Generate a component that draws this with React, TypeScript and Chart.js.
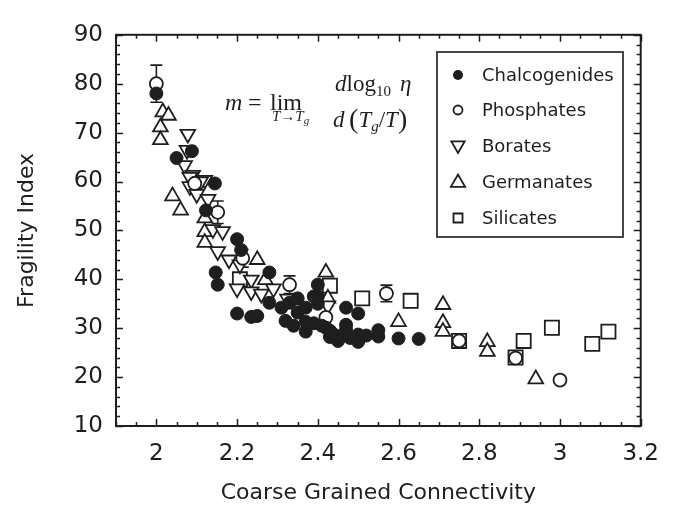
import React, { useEffect, useRef } from 'react';
import { Chart, registerables } from 'chart.js';

Chart.register(...registerables);

const seriesNames = ['Chalcogenides', 'Phosphates', 'Borates', 'Germanates', 'Silicates'];

const chalcX = [2.0, 2.05, 2.088, 2.145, 2.123, 2.2, 2.21, 2.147, 2.152, 2.2, 2.235, 2.25, 2.28, 2.28, 2.39, 2.31, 2.33, 2.37, 2.4, 2.4, 2.35, 2.4, 2.47, 2.5, 2.35, 2.37, 2.42, 2.44, 2.45, 2.47, 2.5, 2.5, 2.47, 2.37, 2.55, 2.55, 2.6, 2.65, 2.32, 2.34, 2.39, 2.41, 2.43, 2.46, 2.48, 2.52, 2.43];
const chalcY = [78, 64.8, 66.2, 59.6, 54.1, 48.2, 46, 41.4, 38.9, 33, 32.3, 32.5, 41.4, 35.2, 36.5, 34.2, 35.2, 34.2, 35, 38.9, 36.1, 36.5, 34.2, 33, 33.2, 31.3, 30.1, 28.7, 27.4, 29.7, 28.7, 27.2, 30.7, 29.3, 28.3, 29.6, 27.9, 27.8, 31.5, 30.5, 31, 30.5, 29.5, 28.5, 28, 28.5, 28.2];

const phosX = [2.0, 2.095, 2.152, 2.214, 2.33, 2.42, 2.57, 2.75, 2.89, 3.0];
const phosY = [80, 59.6, 53.7, 44.3, 38.9, 32.2, 37.1, 27.4, 23.9, 19.4];
const phosErr = [3.8, 0, 2.3, 1.8, 1.8, 0, 1.7, 0, 0, 0];

const borX = [2.078, 2.076, 2.07, 2.09, 2.12, 2.083, 2.11, 2.083, 2.1, 2.128, 2.14, 2.164, 2.152, 2.18, 2.207, 2.2, 2.235, 2.235, 2.26, 2.29, 2.325, 2.35, 2.425];
const borY = [69.7, 66.4, 63.3, 61.3, 60.3, 60.9, 60, 59, 57.4, 56.4, 50.2, 49.8, 45.7, 44, 43, 38.1, 39.9, 37.5, 37, 38.1, 36, 34, 34.6];

const gerX = [2.016, 2.03, 2.01, 2.01, 2.04, 2.06, 2.12, 2.12, 2.12, 2.25, 2.27, 2.42, 2.425, 2.6, 2.71, 2.71, 2.71, 2.82, 2.82, 2.94];
const gerY = [74.2, 73.5, 71.1, 68.5, 57, 54.1, 52.5, 49.7, 47.5, 44, 39.9, 41.4, 36.1, 31.3, 34.8, 31.1, 29.3, 27.2, 25.2, 19.6];

const silX = [2.207, 2.43, 2.51, 2.63, 2.75, 2.89, 2.91, 2.98, 3.08, 3.12];
const silY = [40, 38.7, 36.1, 35.6, 27.4, 24, 27.4, 30.1, 26.8, 29.3];

const xTickValues = [2, 2.2, 2.4, 2.6, 2.8, 3, 3.2];
const xTickLabels = ['2', '2.2', '2.4', '2.6', '2.8', '3', '3.2'];
const yTickValues = [10, 20, 30, 40, 50, 60, 70, 80, 90];
const yTickLabels = ['10', '20', '30', '40', '50', '60', '70', '80', '90'];

const xTitle = 'Coarse Grained Connectivity';
const yTitle = 'Fragility Index';

const INK = '#1e1e1e';
const SANS = '"DejaVu Sans", sans-serif';
const SERIF = '"Liberation Serif", serif';

const toPoints = (xs: number[], ys: number[]) => xs.map((x, i) => ({ x, y: ys[i] }));

function drawMarker(ctx: CanvasRenderingContext2D, kind: string, x: number, y: number, s: number) {
  ctx.beginPath();
  if (kind === 'dot' || kind === 'circle') {
    ctx.arc(x, y, s, 0, Math.PI * 2);
  } else if (kind === 'up') {
    ctx.moveTo(x, y - s);
    ctx.lineTo(x + s * 0.95, y + s * 0.65);
    ctx.lineTo(x - s * 0.95, y + s * 0.65);
    ctx.closePath();
  } else if (kind === 'down') {
    ctx.moveTo(x, y + s);
    ctx.lineTo(x + s * 0.95, y - s * 0.65);
    ctx.lineTo(x - s * 0.95, y - s * 0.65);
    ctx.closePath();
  } else {
    ctx.rect(x - s, y - s, 2 * s, 2 * s);
  }
  if (kind === 'dot') {
    ctx.fillStyle = INK;
    ctx.fill();
  } else {
    ctx.fillStyle = '#fff';
    ctx.fill();
    ctx.lineWidth = 1.8;
    ctx.strokeStyle = INK;
    ctx.stroke();
  }
}

function drawRun(ctx: CanvasRenderingContext2D, x: number, y: number, parts: [string, string, number][]) {
  let cx = x;
  for (const [text, font, dy] of parts) {
    ctx.font = font;
    ctx.fillText(text, cx, y + dy);
    cx += ctx.measureText(text).width;
  }
}

const decorPlugin = {
  id: 'decor',
  beforeDatasetsDraw(chart: any) {
    const { ctx, scales } = chart;
    const xs = scales.x;
    const ys = scales.y;
    ctx.save();
    ctx.strokeStyle = INK;
    ctx.lineWidth = 1.6;
    phosX.forEach((xv, i) => {
      const e = phosErr[i];
      if (!e) return;
      const px = xs.getPixelForValue(xv);
      const top = ys.getPixelForValue(phosY[i] + e);
      const bot = ys.getPixelForValue(phosY[i] - e);
      ctx.beginPath();
      ctx.moveTo(px, top);
      ctx.lineTo(px, bot);
      ctx.moveTo(px - 6, top);
      ctx.lineTo(px + 6, top);
      ctx.moveTo(px - 6, bot);
      ctx.lineTo(px + 6, bot);
      ctx.stroke();
    });
    ctx.restore();
  },
  afterDraw(chart: any) {
    const { ctx, chartArea: a, scales } = chart;
    const xs = scales.x;
    const ys = scales.y;
    ctx.save();
    // frame
    ctx.strokeStyle = INK;
    ctx.lineWidth = 2;
    ctx.strokeRect(a.left, a.top, a.right - a.left, a.bottom - a.top);
    // ticks
    ctx.lineWidth = 1.5;
    ctx.beginPath();
    for (let i = 0; i <= 26; i++) {
      const v = 1.9 + i * 0.05;
      const major = xTickValues.some((t) => Math.abs(t - v) < 1e-6);
      const len = major ? 7 : 4;
      const px = Math.round(xs.getPixelForValue(v)) + 0.5;
      ctx.moveTo(px, a.bottom);
      ctx.lineTo(px, a.bottom - len);
      ctx.moveTo(px, a.top);
      ctx.lineTo(px, a.top + len);
    }
    for (let i = 0; i <= 40; i++) {
      const v = 10 + i * 2;
      const major = v % 10 === 0;
      const len = major ? 7 : 4;
      const py = Math.round(ys.getPixelForValue(v)) + 0.5;
      ctx.moveTo(a.left, py);
      ctx.lineTo(a.left + len, py);
      ctx.moveTo(a.right, py);
      ctx.lineTo(a.right - len, py);
    }
    ctx.stroke();

    // legend
    const lx = 429, ly = 44, lw = 186, lh = 185;
    ctx.fillStyle = '#fff';
    ctx.fillRect(lx, ly, lw, lh);
    ctx.lineWidth = 1.8;
    ctx.strokeStyle = '#333';
    ctx.strokeRect(lx, ly, lw, lh);
    const kinds = ['dot', 'circle', 'down', 'up', 'square'];
    const sizes = [5, 4.5, 7, 7.5, 4.5];
    const rows = [67, 102, 138, 174, 210];
    ctx.textBaseline = 'middle';
    ctx.textAlign = 'left';
    chart.data.datasets.forEach((ds: any, i: number) => {
      drawMarker(ctx, kinds[i], 450, rows[i], sizes[i]);
      ctx.fillStyle = INK;
      ctx.font = '18px ' + SANS;
      ctx.fillText(ds.label, 474, rows[i] + 1);
    });

    // formula
    ctx.fillStyle = INK;
    ctx.textBaseline = 'alphabetic';
    ctx.font = 'italic 24px ' + SERIF;
    ctx.fillText('m', 217, 102);
    ctx.font = '24px ' + SERIF;
    ctx.fillText('=', 240, 102);
    ctx.fillText('lim', 262, 102);
    drawRun(ctx, 264, 113, [
      ['T', 'italic 15px ' + SERIF, 0],
      ['\u2192', '15px ' + SERIF, 0],
      ['T', 'italic 15px ' + SERIF, 0],
      ['g', 'italic 11px ' + SERIF, 3],
    ]);
    drawRun(ctx, 327, 83, [
      ['d', 'italic 23px ' + SERIF, 0],
      ['log', '23px ' + SERIF, 0],
      ['10', '15px ' + SERIF, 5],
      ['\u2009\u2009\u03b7', 'italic 23px ' + SERIF, 0],
    ]);
    drawRun(ctx, 325, 119, [
      ['d', 'italic 23px ' + SERIF, 0],
      ['\u2009', '23px ' + SERIF, 0],
      ['(', '28px ' + SERIF, 1],
      ['T', 'italic 23px ' + SERIF, 0],
      ['g', 'italic 15px ' + SERIF, 4],
      ['/', '23px ' + SERIF, 0],
      ['T', 'italic 23px ' + SERIF, 0],
      [')', '28px ' + SERIF, 1],
    ]);
    ctx.restore();
  },
};

export default function App() {
  const ref = useRef<HTMLCanvasElement | null>(null);
  useEffect(() => {
    if (!ref.current) return;
    const common = { borderColor: INK, borderWidth: 1.8, backgroundColor: '#fff' };
    const chart = new Chart(ref.current, {
      type: 'scatter',
      data: {
        datasets: [
          { label: seriesNames[0], data: toPoints(chalcX, chalcY), pointStyle: 'circle', pointRadius: 6.5, backgroundColor: INK, borderColor: INK, borderWidth: 1 },
          { label: seriesNames[1], data: toPoints(phosX, phosY), pointStyle: 'circle', pointRadius: 6.5, ...common },
          { label: seriesNames[2], data: toPoints(borX, borY), pointStyle: 'triangle', rotation: 180, pointRadius: 8.5, ...common },
          { label: seriesNames[3], data: toPoints(gerX, gerY), pointStyle: 'triangle', pointRadius: 8.5, ...common },
          { label: seriesNames[4], data: toPoints(silX, silY), pointStyle: 'rect', pointRadius: 10, ...common },
        ] as any,
      },
      options: {
        responsive: false,
        animation: false,
        events: [],
        layout: { padding: { top: 8, right: 10, left: 0, bottom: 0 } },
        plugins: { legend: { display: false }, tooltip: { enabled: false } },
        scales: {
          x: {
            type: 'linear',
            min: 1.9,
            max: 3.2,
            afterBuildTicks: (s: any) => { s.ticks = xTickValues.map((v) => ({ value: v })); },
            afterFit: (s: any) => { s.height = 78; },
            grid: { display: false, drawTicks: false },
            border: { display: false },
            ticks: {
              color: INK,
              font: { family: SANS, size: 23 },
              padding: 14,
              maxRotation: 0,
              autoSkip: false,
              callback: (v: any) => xTickLabels[xTickValues.findIndex((t) => Math.abs(t - Number(v)) < 1e-6)] ?? '',
            },
            title: { display: true, text: xTitle, color: INK, font: { family: SANS, size: 22, lineHeight: 1 }, padding: { top: 0, bottom: 0 } },
          },
          y: {
            type: 'linear',
            min: 10,
            max: 90,
            afterBuildTicks: (s: any) => { s.ticks = yTickValues.map((v) => ({ value: v })); },
            afterFit: (s: any) => { s.width = 108; },
            grid: { display: false, drawTicks: false },
            border: { display: false },
            ticks: {
              color: INK,
              font: { family: SANS, size: 23 },
              padding: 13,
              autoSkip: false,
              callback: (v: any) => yTickLabels[yTickValues.indexOf(Number(v))] ?? '',
            },
            title: { display: true, text: yTitle, color: INK, font: { family: SANS, size: 22, lineHeight: 1 }, padding: { top: 8, bottom: 0 } },
          },
        },
      },
      plugins: [decorPlugin],
    } as any);
    return () => chart.destroy();
  }, []);
  return (
    <div style={{ width: 665, height: 496 }}>
      <canvas ref={ref} width={665} height={496} style={{ display: 'block' }} />
    </div>
  );
}
